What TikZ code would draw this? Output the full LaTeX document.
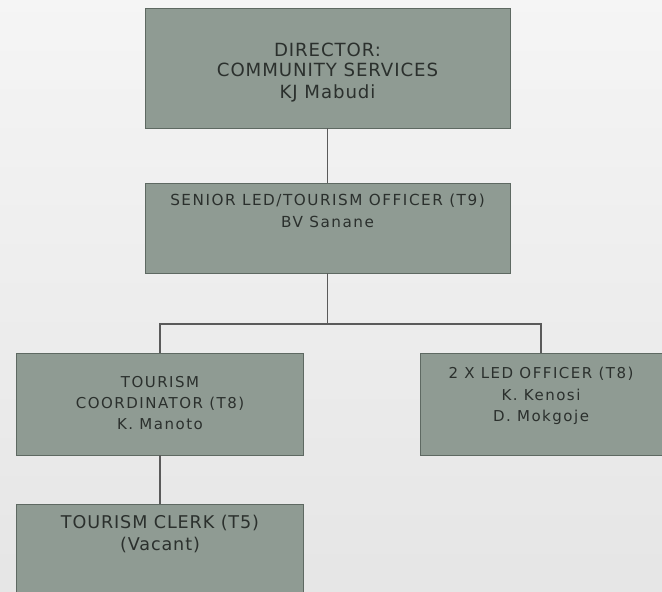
\documentclass[tikz,border=0pt]{standalone}
\usepackage{fontspec}
\setmainfont{DejaVu Sans}
\newfontfamily\headfont[LetterSpace=5]{DejaVu Sans}
\newfontfamily\postfont[LetterSpace=10]{DejaVu Sans}
\usetikzlibrary{positioning}
\definecolor{boxfill}{HTML}{8F9B93}
\definecolor{boxedge}{HTML}{5E6962}
\definecolor{boxtext}{HTML}{2B302D}
\definecolor{linkgray}{HTML}{5A5A5A}
\tikzset{
  post/.style 2 args={
    draw=boxedge, fill=boxfill, line width=0.8pt,
    minimum width=#1 cm, minimum height=#2 cm, inner sep=0
  },
  posttext/.style={text=boxtext, align=center, inner sep=0},
  link/.style={draw=linkgray, line width=0.9pt}
}

\begin{document}
\begin{tikzpicture}[x=0.03cm, y=-0.03cm]
            \clip (0,0) rectangle (662,592);
            \shade[top color=white!96!black, bottom color=white!90!black] (0,0) rectangle (662,592);

            % Director
            \draw node[post={10.95}{3.6}] (director) at (327.5,68) {};
            \draw node[posttext, below = 1.065cm of director.north,
              font={\headfont\fontsize{15.5}{16.5}\selectfont}] (directorT)
              {DIRECTOR:\\COMMUNITY SERVICES\\[3pt]KJ Mabudi};

            % Senior
            \draw node[post={10.95}{2.7}] (senior) at (327.5,228) {};
            \draw node[posttext, below = 0.33cm of senior.north,
              font={\postfont\fontsize{13}{18.7}\selectfont}] (seniorT)
              {SENIOR LED/TOURISM OFFICER (T9)\\BV Sanane};

            % Coordinator y LED
            \draw node[post={8.61}{3.06}] (coord) at (160,404) {};
            \draw node[posttext, below = 0.7cm of coord.north,
              font={\postfont\fontsize{12.8}{18.2}\selectfont}] (coordT)
              {TOURISM\\COORDINATOR (T8)\\K. Manoto};

            \draw node[post={7.26}{3.06}] (led) at (541,404) {};
            \draw node[posttext, below = 0.44cm of led.north,
              font={\postfont\fontsize{12.8}{18.3}\selectfont}] (ledT)
              {2 X LED OFFICER (T8)\\K. Kenosi\\D. Mokgoje};

            % Clerk
            \draw node[post={8.61}{2.88}] (clerk) at (160,552) {};
            \draw node[posttext, below = 0.33cm of clerk.north,
              font={\headfont\fontsize{15}{19.5}\selectfont}] (clerkT)
              {TOURISM CLERK (T5)\\(Vacant)};

            % Lineas
            \coordinate (bus) at (0,324);
            \draw[link] (director.south) -- (senior.north);
            \draw[link] (senior.south) -- (senior.south |- bus);
            \draw[link] (coord.north) |- (led.north |- bus) -- (led.north);
            \draw[link] (coord.south) -- (clerk.north);
        \end{tikzpicture}
\end{document}
